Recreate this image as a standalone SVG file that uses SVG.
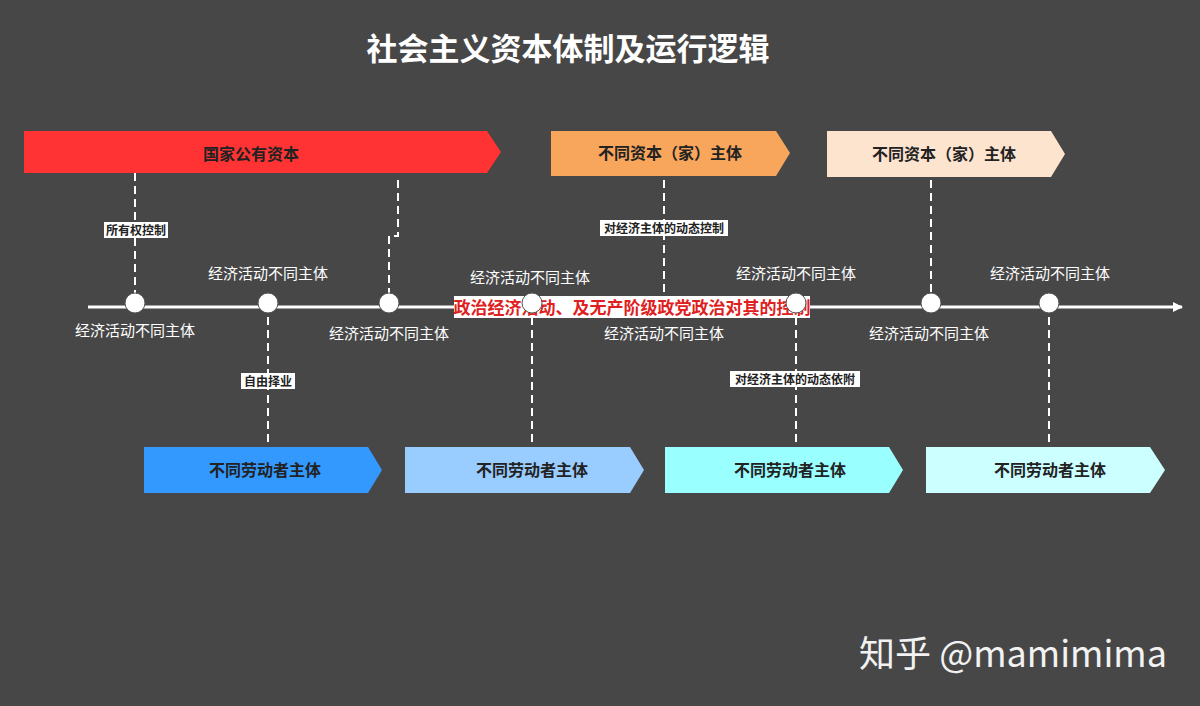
<svg xmlns="http://www.w3.org/2000/svg" width="1200" height="706" viewBox="0 0 1200 706">
<style>
text{font-family:"Noto Sans CJK SC","Liberation Sans",sans-serif}
.t{fill:#222;font-size:16px;font-weight:bold;text-anchor:middle}
.w{fill:#fff;font-size:15px;text-anchor:middle}
.s{fill:#222;font-size:12px;font-weight:bold;text-anchor:middle}
.d{stroke:#fff;stroke-width:2;stroke-dasharray:8,5;fill:none}
.c{fill:#fff;stroke:#555;stroke-width:1}
</style>
<defs><marker id="ah" markerWidth="10" markerHeight="10" refX="9" refY="5" orient="auto" markerUnits="userSpaceOnUse"><path d="M0,0L10,5L0,10Z" fill="#fff"/></marker></defs>
<rect width="1200" height="706" fill="#474747"/>
<text x="568" y="60" fill="#fff" font-size="31" font-weight="bold" text-anchor="middle">社会主义资本体制及运行逻辑</text>
<g id="top1"><polygon points="24,131 487,131 501,152 487,173 24,173" fill="#ff3333"/><text class="t" x="251" y="160">国家公有资本</text></g>
<g id="top2"><polygon points="551,131 776,131 790,153 776,176 551,176" fill="#f8a65c"/><text class="t" x="670" y="159">不同资本（家）主体</text></g>
<g id="top3"><polygon points="827,131 1051,131 1065,154 1051,177 827,177" fill="#fde4cf"/><text class="t" x="944" y="160">不同资本（家）主体</text></g>
<g id="b1"><polygon points="144,447 368,447 382,470 368,493 144,493" fill="#3399ff"/><text class="t" x="265" y="476">不同劳动者主体</text></g>
<g id="b2"><polygon points="405,447 630,447 644,470 630,493 405,493" fill="#99ccff"/><text class="t" x="532" y="476">不同劳动者主体</text></g>
<g id="b3"><polygon points="665,447 889,447 903,470 889,493 665,493" fill="#99ffff"/><text class="t" x="790" y="476">不同劳动者主体</text></g>
<g id="b4"><polygon points="926,447 1150,447 1165,470 1150,493 926,493" fill="#ccffff"/><text class="t" x="1050" y="476">不同劳动者主体</text></g>
<g id="connectors">
<line x1="88" y1="307" x2="1182" y2="307" stroke="#fff" stroke-width="3" marker-end="url(#ah)"/>
<path class="d" d="M135,173V297"/>
<path class="d" d="M398,180V236H389V297"/>
<path class="d" d="M268,317V446"/>
<path class="d" d="M532,317V446"/>
<path class="d" d="M664,180V297"/>
<path class="d" d="M796,317V446"/>
<path class="d" d="M931,180V297"/>
<path class="d" d="M1049,317V446"/>
</g>
<g id="notes">
<rect x="104" y="222" width="64" height="16" fill="#fff"/><text class="s" x="136" y="235">所有权控制</text>
<rect x="241" y="373" width="54" height="16" fill="#fff"/><text class="s" x="268" y="386">自由择业</text>
<rect x="600" y="220" width="128" height="16" fill="#fff"/><text class="s" x="664" y="233">对经济主体的动态控制</text>
<rect x="730" y="371" width="130" height="16" fill="#fff"/><text class="s" x="795" y="384">对经济主体的动态依附</text>
<circle class="c" cx="664" cy="307" r="10"/>
<rect x="454" y="296" width="356" height="22" fill="#fff"/>
<text x="632" y="314" fill="#e02020" font-size="17" font-weight="bold" text-anchor="middle">政治经济活动、及无产阶级政党政治对其的控制</text>
</g>
<g id="nodes">
<circle class="c" cx="135" cy="303" r="10"/>
<circle class="c" cx="268" cy="303" r="10"/>
<circle class="c" cx="389" cy="303" r="10"/>
<circle class="c" cx="532" cy="303" r="10"/>
<circle class="c" cx="796" cy="303" r="10"/>
<circle class="c" cx="931" cy="303" r="10"/>
<circle class="c" cx="1049" cy="303" r="10"/>
<text class="w" x="135" y="336">经济活动不同主体</text>
<text class="w" x="268" y="279">经济活动不同主体</text>
<text class="w" x="389" y="339">经济活动不同主体</text>
<text class="w" x="530" y="283">经济活动不同主体</text>
<text class="w" x="664" y="339">经济活动不同主体</text>
<text class="w" x="796" y="279">经济活动不同主体</text>
<text class="w" x="929" y="339">经济活动不同主体</text>
<text class="w" x="1050" y="279">经济活动不同主体</text>
</g>
<text x="1013" y="667" fill="#f2f2f2" font-size="36" text-anchor="middle">知乎 @mamimima</text>
</svg>
